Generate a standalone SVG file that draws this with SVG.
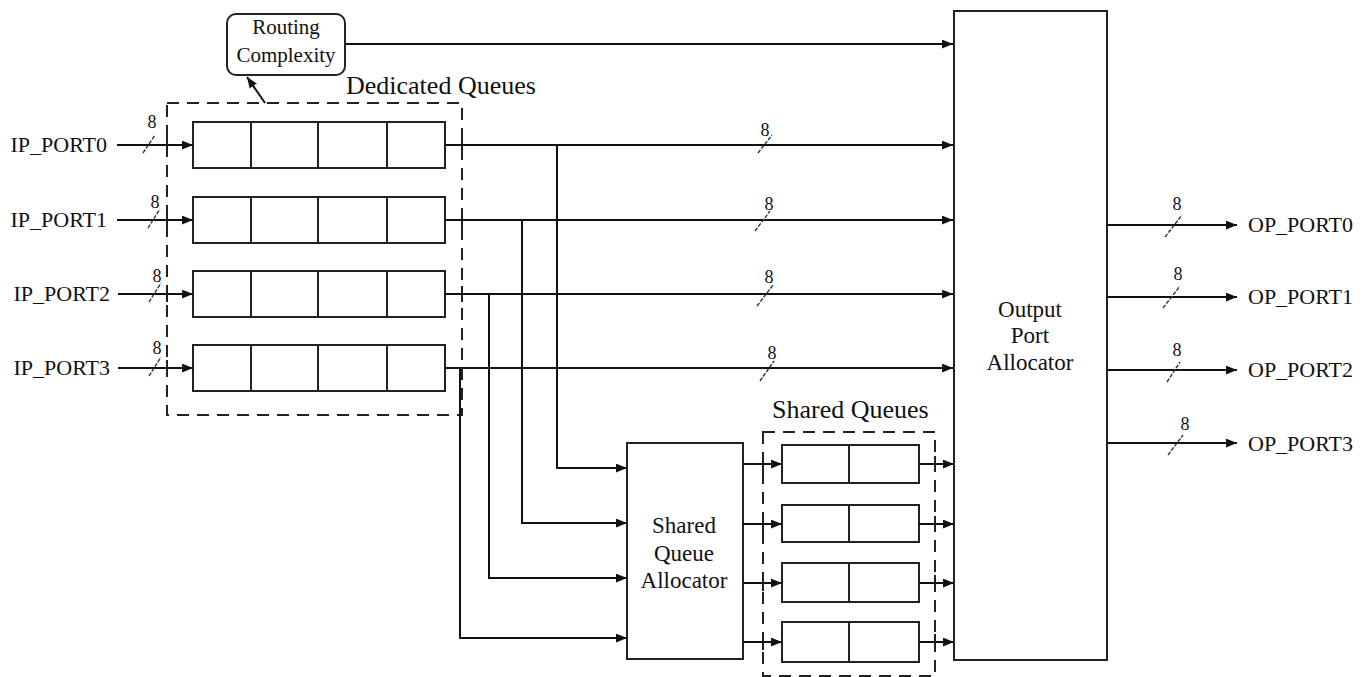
<svg xmlns="http://www.w3.org/2000/svg" width="1372" height="677" viewBox="0 0 1372 677">
<style>
text{font-family:"Liberation Serif","Times New Roman",serif;fill:#111}
.lbl{font-size:22px}
.rc{font-size:21px;text-anchor:middle}
.big{font-size:26px}
.blk{font-size:23px;text-anchor:middle}
.w{font-size:18px;text-anchor:middle}
.box{fill:#fff;stroke:#222;stroke-width:2}
.div{stroke:#222;stroke-width:2}
.dash{fill:none;stroke:#222;stroke-width:2;stroke-dasharray:12 8}
.tick{stroke:#222;stroke-width:2}
.arr{fill:none;stroke:#111;stroke-width:2;marker-end:url(#ah)}
.sl{stroke:#333;stroke-width:1.4;stroke-dasharray:4 1.5}
</style>
<defs>
<marker id="ah" viewBox="0 0 10 8" refX="10" refY="4" markerWidth="11" markerHeight="9" markerUnits="userSpaceOnUse" orient="auto"><path d="M0,0 L10,4 L0,8 z" fill="#111"/></marker>
</defs>
<rect width="1372" height="677" fill="#fff"/>

<g id="dedicated-queues">
<rect class="dash" x="167" y="103" width="295" height="312"/>
<path class="tick" d="M167,137V153M167,212V228M167,286V302M167,360V376M462,137V153M462,212V228M462,286V302"/>
<text class="big" x="346" y="94">Dedicated Queues</text>
</g>
<g id="q0"><rect class="box" x="193" y="122" width="252" height="46"/><path class="div" d="M251,122V168M318,122V168M387,122V168"/></g>
<g id="q1"><rect class="box" x="193" y="197" width="252" height="46"/><path class="div" d="M251,197V243M318,197V243M387,197V243"/></g>
<g id="q2"><rect class="box" x="193" y="271" width="252" height="46"/><path class="div" d="M251,271V317M318,271V317M387,271V317"/></g>
<g id="q3"><rect class="box" x="193" y="345" width="252" height="46"/><path class="div" d="M251,345V391M318,345V391M387,345V391"/></g>

<g id="routing-complexity">
<rect class="box" x="227" y="14" width="118" height="61" rx="9"/>
<text class="rc" x="286" y="34">Routing</text>
<text class="rc" x="286" y="62">Complexity</text>
</g>

<g id="shared-queues">
<rect class="dash" x="763" y="432" width="172" height="244"/>
<path class="tick" d="M763,456V472M763,516V532M763,575V591M763,634V650M935,456V472M935,516V532M935,575V591M935,634V650"/>
<text class="big" x="772" y="418">Shared Queues</text>
</g>
<g id="sq0"><rect class="box" x="782" y="445" width="137" height="38"/><path class="div" d="M849,445V483"/></g>
<g id="sq1"><rect class="box" x="782" y="505" width="137" height="37"/><path class="div" d="M849,505V542"/></g>
<g id="sq2"><rect class="box" x="782" y="563" width="137" height="39"/><path class="div" d="M849,563V602"/></g>
<g id="sq3"><rect class="box" x="782" y="622" width="137" height="40"/><path class="div" d="M849,622V662"/></g>

<g id="shared-queue-allocator">
<rect class="box" x="627" y="443" width="116" height="216"/>
<text class="blk" x="684" y="533">Shared</text>
<text class="blk" x="684" y="561">Queue</text>
<text class="blk" x="684" y="588">Allocator</text>
</g>

<g id="output-port-allocator">
<rect class="box" x="954" y="11" width="153" height="649"/>
<text class="blk" x="1030" y="317">Output</text>
<text class="blk" x="1030" y="343">Port</text>
<text class="blk" x="1030" y="370">Allocator</text>
</g>

<g id="ports">
<text class="lbl" x="107" y="152" text-anchor="end">IP_PORT0</text>
<text class="lbl" x="107" y="227" text-anchor="end">IP_PORT1</text>
<text class="lbl" x="110" y="301" text-anchor="end">IP_PORT2</text>
<text class="lbl" x="110" y="375" text-anchor="end">IP_PORT3</text>
<text class="lbl" x="1248" y="232">OP_PORT0</text>
<text class="lbl" x="1248" y="304">OP_PORT1</text>
<text class="lbl" x="1248" y="377">OP_PORT2</text>
<text class="lbl" x="1248" y="451">OP_PORT3</text>
</g>

<g id="connectors">
<path class="arr" d="M117,145H193"/>
<path class="arr" d="M117,220H193"/>
<path class="arr" d="M118,294H193"/>
<path class="arr" d="M118,368H193"/>
<path class="arr" d="M345,44H953"/>
<path class="arr" d="M265,103L247,77"/>
<path class="arr" d="M445,145H953"/>
<path class="arr" d="M445,220H953"/>
<path class="arr" d="M445,294H953"/>
<path class="arr" d="M445,368H953"/>
<path class="arr" d="M557,145V468H627"/>
<path class="arr" d="M522,220V523H627"/>
<path class="arr" d="M489,294V578H627"/>
<path class="arr" d="M460,368V638H627"/>
<path class="arr" d="M743,464H782"/>
<path class="arr" d="M743,524H782"/>
<path class="arr" d="M743,583H782"/>
<path class="arr" d="M743,642H782"/>
<path class="arr" d="M919,464H954"/>
<path class="arr" d="M919,524H954"/>
<path class="arr" d="M919,583H954"/>
<path class="arr" d="M919,642H954"/>
<path class="arr" d="M1107,225H1237"/>
<path class="arr" d="M1107,297H1237"/>
<path class="arr" d="M1107,370H1237"/>
<path class="arr" d="M1107,443H1237"/>
</g>

<g id="bus-widths">
<path class="sl" d="M143,153L155,135M148,228L160,209M149,302L161,283M149,376L161,357"/>
<text class="w" x="152" y="128">8</text>
<text class="w" x="155" y="208">8</text>
<text class="w" x="157" y="282">8</text>
<text class="w" x="157" y="354">8</text>
<path class="sl" d="M758,153L772,135M755,231L770,211M757,306L773,285M760,381L774,361"/>
<text class="w" x="765" y="136">8</text>
<text class="w" x="769" y="210">8</text>
<text class="w" x="769" y="283">8</text>
<text class="w" x="772" y="359">8</text>
<path class="sl" d="M1165,237L1182,215M1163,308L1180,286M1167,382L1180,362M1168,455L1183,435"/>
<text class="w" x="1177" y="210">8</text>
<text class="w" x="1178" y="280">8</text>
<text class="w" x="1177" y="356">8</text>
<text class="w" x="1185" y="430">8</text>
</g>
</svg>
